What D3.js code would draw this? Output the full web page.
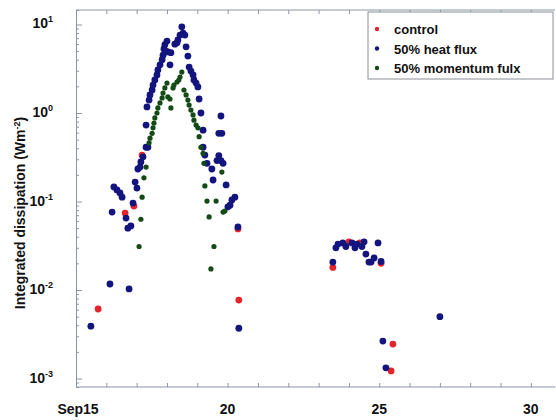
<!DOCTYPE html>
<html>
<head>
<meta charset="utf-8">
<script src="https://cdn.jsdelivr.net/npm/d3@7"></script>
<style>
  body { margin: 0; background: #fff; }
  text { font-family: "Liberation Sans", Arial, sans-serif; font-weight: bold; fill: #111; }
</style>
</head>
<body>
<script>
// day of September, integrated dissipation (W m^-2)
var controlRun = [
  [15.73, 0.0061], [16.62, 0.074], [16.91, 0.089], [17.18, 0.335], [17.97, 5.0],
  [20.34, 0.049], [20.37, 0.0077], [23.47, 0.018], [24.00, 0.035], [24.36, 0.034],
  [25.06, 0.020], [25.45, 0.00245], [25.39, 0.00122]
];
var heatFlux = [
  [15.49, 0.0039], [16.12, 0.0117], [16.75, 0.0103], [16.19, 0.076], [16.25, 0.146],
  [16.35, 0.135], [16.45, 0.125], [16.52, 0.112], [16.65, 0.065], [16.71, 0.050],
  [16.81, 0.053], [16.88, 0.096], [16.95, 0.166], [17.01, 0.142], [17.04, 0.233],
  [17.11, 0.245], [17.14, 0.28], [17.21, 0.32], [17.31, 0.41], [17.37, 0.41],
  [17.31, 0.73], [17.34, 1.17], [17.41, 1.40], [17.44, 1.60], [17.51, 1.82],
  [17.54, 2.07], [17.60, 2.36], [17.67, 2.69], [17.70, 3.06], [17.77, 3.5],
  [17.84, 4.0], [17.87, 4.5], [17.90, 5.3], [17.93, 5.9], [18.00, 6.5],
  [18.03, 4.9], [18.13, 4.8], [18.10, 3.5], [18.26, 6.0], [18.33, 6.2],
  [18.36, 6.7], [18.43, 7.6], [18.49, 9.4], [18.53, 8.0], [18.59, 7.6],
  [18.63, 5.6], [18.69, 4.4], [18.73, 3.3], [18.79, 2.98], [18.86, 2.69],
  [18.89, 2.36], [18.96, 2.18], [19.02, 1.97], [19.06, 1.44], [19.12, 1.0],
  [19.19, 0.64], [19.19, 0.41], [19.25, 0.335], [19.32, 0.27], [19.48, 0.233],
  [19.52, 0.175], [19.65, 0.29], [19.71, 0.33], [19.78, 0.29], [19.85, 0.27],
  [19.71, 0.59], [19.81, 0.59], [19.78, 0.925], [19.95, 0.154], [20.01, 0.087],
  [20.08, 0.091], [20.14, 0.104], [20.24, 0.112], [20.34, 0.0515], [20.37, 0.0037],
  [23.47, 0.0207], [23.57, 0.030], [23.64, 0.033], [23.80, 0.034], [23.90, 0.031],
  [24.10, 0.034], [24.20, 0.030], [24.26, 0.033], [24.43, 0.031], [24.50, 0.035],
  [24.56, 0.0255], [24.66, 0.0207], [24.73, 0.0207], [24.83, 0.023], [24.96, 0.034],
  [25.06, 0.021], [25.12, 0.00265], [25.22, 0.00132], [27.00, 0.0050]
];
var momentumFlux = [
  [17.08, 0.031], [17.14, 0.063], [17.18, 0.112], [17.24, 0.185], [17.31, 0.245],
  [17.41, 0.46], [17.44, 0.52], [17.51, 0.59], [17.54, 0.68], [17.57, 0.77],
  [17.60, 0.88], [17.67, 1.0], [17.70, 1.14], [17.77, 1.30], [17.84, 1.48],
  [17.87, 1.68], [17.93, 1.92], [18.00, 2.18], [18.03, 1.52], [18.10, 1.44],
  [18.13, 1.14], [18.20, 1.92], [18.23, 2.07], [18.33, 2.24], [18.39, 2.36],
  [18.43, 2.55], [18.49, 2.9], [18.56, 1.82], [18.63, 1.60], [18.69, 1.40],
  [18.73, 1.23], [18.79, 1.08], [18.86, 0.95], [18.89, 0.83], [18.96, 0.73],
  [19.02, 0.68], [19.06, 0.54], [19.12, 0.41], [19.19, 0.35], [19.22, 0.27],
  [19.25, 0.15], [19.32, 0.101], [19.39, 0.067], [19.55, 0.031], [19.62, 0.101],
  [19.81, 0.215], [19.91, 0.078], [19.85, 0.076], [19.45, 0.0173]
];
var dayTicks = d3.range(15, 31);
var dayLabels = {15: "Sep15", 20: "20", 25: "25", 30: "30"};
var decades = [-3, -2, -1, 0, 1];
var legendNames = ["control", "50% heat flux", "50% momentum fulx"];
var colors = ["#e3242b", "#14147e", "#134a16"];

var w = 556, h = 420;
var plotL = 76, plotR = 553, plotT = 10, plotB = 387;

var x = d3.scaleLinear().domain([15, 30.73]).range([plotL, plotR]);
var y = d3.scaleLog().domain([8.02e-4, 14.58]).range([plotB, plotT]);

var svg = d3.select("body").append("svg")
    .attr("width", w)
    .attr("height", h);

var axisColor = "#8a96a8";

// bottom and top axes, ticks pointing inward
var xb = svg.append("g")
    .attr("transform", "translate(0," + plotB + ")")
    .call(d3.axisTop(x).tickValues(dayTicks).tickSize(4).tickFormat(""));
var xt = svg.append("g")
    .attr("transform", "translate(0," + plotT + ")")
    .call(d3.axisBottom(x).tickValues(dayTicks).tickSize(4).tickFormat(""));
[xb, xt].forEach(g => {
    g.select(".domain").attr("stroke", axisColor).attr("d", "M" + plotL + ",0H" + (w - 1));
    g.selectAll(".tick line").attr("stroke", axisColor);
});

svg.append("g").selectAll("text")
    .data(dayTicks.filter(d => dayLabels[d]))
    .enter().append("text")
    .attr("x", d => x(d) + (d === 15 ? 2 : 0))
    .attr("y", 414)
    .attr("text-anchor", "middle")
    .style("font-size", "14px")
    .text(d => dayLabels[d]);

// left log axis with minor ticks
var minor = [];
decades.forEach(e => {
    for (var k = 1; k < 10; k++) {
        var v = k * Math.pow(10, e);
        if (v >= y.domain()[0] && v <= y.domain()[1]) minor.push(v);
    }
});
minor.push(9e-4);
var ya = svg.append("g")
    .attr("transform", "translate(" + plotL + ",0)")
    .call(d3.axisRight(y).tickValues(minor).tickSize(3).tickFormat(""));
ya.select(".domain").attr("stroke", axisColor);
ya.selectAll(".tick line")
    .attr("stroke", axisColor)
    .attr("x2", d => Math.abs(Math.log10(d) - Math.round(Math.log10(d))) < 1e-6 ? 6 : 3);

var yl = svg.append("g").selectAll("text")
    .data(decades)
    .enter().append("text")
    .attr("x", 53)
    .attr("y", e => y(Math.pow(10, e)) + 4)
    .attr("text-anchor", "end")
    .style("font-size", "14px");
yl.append("tspan").text("10");
yl.append("tspan")
    .attr("dy", -6)
    .style("font-size", "9px")
    .text(e => e < 0 ? "-" + (-e) : e);

var title = svg.append("text")
    .attr("transform", "translate(25,213) rotate(-90)")
    .attr("text-anchor", "middle")
    .style("font-size", "14px");
title.append("tspan").text("Integrated dissipation (Wm");
title.append("tspan").attr("dy", -5).style("font-size", "9px").text("-2");
title.append("tspan").attr("dy", 5).text(")");

// points
var series = [controlRun, heatFlux, momentumFlux];
var radii = [3.4, 3.4, 2.6];
series.forEach((s, i) => {
    svg.append("g").selectAll("circle")
        .data(s)
        .enter().append("circle")
        .attr("cx", d => x(d[0]))
        .attr("cy", d => y(d[1]))
        .attr("r", radii[i])
        .attr("fill", colors[i]);
});

// legend
var lg = svg.append("g").attr("transform", "translate(368,12)");
lg.append("rect")
    .attr("width", 185).attr("height", 67)
    .attr("fill", "#fff")
    .attr("stroke", "#8a8f96");
legendNames.forEach((name, i) => {
    lg.append("circle")
        .attr("cx", 9).attr("cy", 17 + i * 19.5)
        .attr("r", 2.2)
        .attr("fill", colors[i]);
    lg.append("text")
        .attr("x", 26).attr("y", 22 + i * 19.5)
        .style("font-size", "13px")
        .text(name);
});
</script>
</body>
</html>
